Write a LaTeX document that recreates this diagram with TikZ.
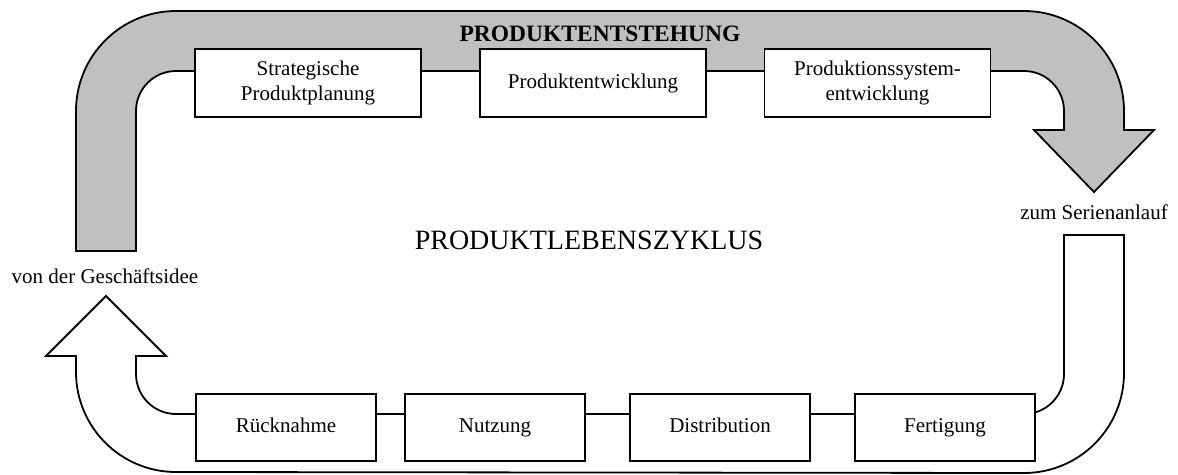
\documentclass[tikz,border=0pt]{standalone}
\usepackage{fontspec}
\setmainfont{Liberation Serif}
\definecolor{bandgray}{RGB}{192,192,192}
\begin{document}
\begin{tikzpicture}[x=1pt,y=-1pt,line join=miter,
  band/.style={draw=black,line width=1.8pt},
  stage/.style={draw=black,fill=white,line width=1.8pt,rectangle,inner sep=0pt,
    align=center,font=\fontsize{21}{25}\selectfont},
  topstage/.style={stage,minimum width=226pt,minimum height=68pt},
  botstage/.style={stage,minimum width=180pt,minimum height=67pt,
    text height=14pt,text depth=5pt},
  lbl/.style={inner sep=0pt,font=\fontsize{21}{25}\selectfont}]
\useasboundingbox (0,0) rectangle (1178,474);

% upper grey arrow: product development
\path[band,fill=bandgray]
  (76,251) -- (76,111) arc[start angle=180,end angle=270,radius=100]
  -- (1024,11) arc[start angle=270,end angle=360,radius=100]
  -- (1124,130) -- (1154,130) -- (1094,192) -- (1034,130) -- (1064,130)
  -- (1064,111) arc[start angle=0,end angle=-90,radius=40]
  -- (176,71) arc[start angle=270,end angle=180,radius=40]
  -- (136,251) -- cycle;

% lower white arrow: production and use
\path[band,fill=white]
  (1064,235) -- (1124,235) -- (1124,373) arc[start angle=0,end angle=90,radius=100]
  -- (176,472) arc[start angle=90,end angle=180,radius=100]
  -- (76,356) -- (46,356) -- (106,296) -- (166,356) -- (136,356)
  -- (136,374) arc[start angle=180,end angle=90,radius=40]
  -- (1024,414) arc[start angle=90,end angle=0,radius=40]
  -- cycle;

% stages of product development
\node[topstage] (spp) at (308,83) {Strategische\\Produktplanung};
\node[topstage] (pe)  at (593,83) {Produktentwicklung};
\node[topstage] (pse) at (877.5,83) {Produktionssystem-\\entwicklung};

% stages after series start
\node[botstage] (rn) at (286,427.5) {Rücknahme};
\node[botstage] (nu) at (495,427.5) {Nutzung};
\node[botstage] (di) at (720,427.5) {Distribution};
\node[botstage] (fe) at (945,427.5) {Fertigung};

% labels
\node[inner sep=0pt,font=\fontsize{23.5}{28}\selectfont\bfseries] (title) at (600,34) {PRODUKTENTSTEHUNG};
\node[inner sep=0pt,font=\fontsize{28}{32}\selectfont] (plz) at (589,240) {PRODUKTLEBENSZYKLUS};
\node[lbl] (start) at (105,276) {von der Geschäftsidee};
\node[lbl] (serie) at (1094,212) {zum Serienanlauf};
\end{tikzpicture}
\end{document}
